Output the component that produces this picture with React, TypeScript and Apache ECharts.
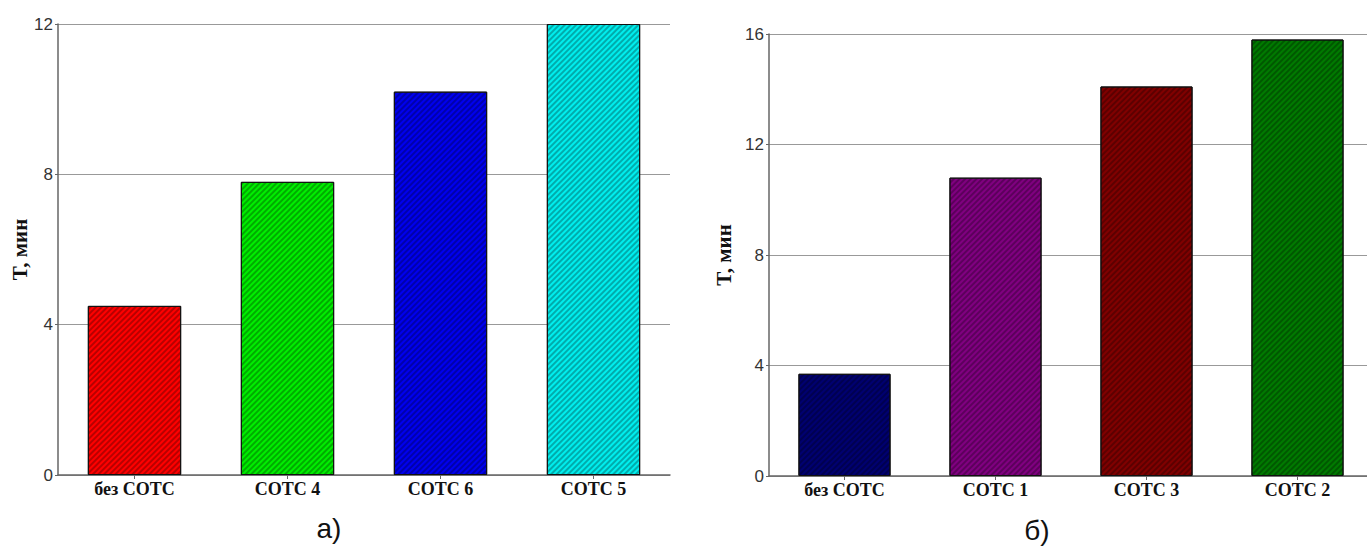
import React, { useEffect, useRef } from "react";
import * as echarts from "echarts";

const categoriesA = ["без СОТС", "СОТС 4", "СОТС 6", "СОТС 5"];
const valuesA = [4.5, 7.8, 10.2, 12.0];
const colorsA = ["#ff0000", "#00ee00", "#0000ee", "#00eeee"];

const categoriesB = ["без СОТС", "СОТС 1", "СОТС 3", "СОТС 2"];
const valuesB = [3.7, 10.8, 14.1, 15.8];
const colorsB = ["#000070", "#800080", "#800000", "#007a00"];

const yNameA = "T, мин";
const yNameB = "T, мин";
const captionA = "а)";
const captionB = "б)";

const decal = {
  symbol: "rect",
  symbolSize: 1,
  dashArrayX: [1, 0],
  dashArrayY: [2, 2],
  rotation: -Math.PI / 4,
  color: "rgba(0,0,0,0.28)",
};

export default function App() {
  const ref = useRef<HTMLDivElement>(null);
  useEffect(() => {
    if (!ref.current) return;
    const chart = echarts.init(ref.current, null, { renderer: "svg" });
    const axisLine = { show: true, lineStyle: { color: "#666", width: 1.5 } };
    const yCommon = (max: number, name: string, gap: number) => ({
      type: "value",
      min: 0,
      max,
      interval: 4,
      name,
      nameLocation: "middle",
      nameRotate: 90,
      nameGap: gap,
      nameTextStyle: {
        fontFamily: "Liberation Serif",
        fontWeight: "bold",
        fontSize: 21,
        color: "#111",
      },
      axisLine,
      axisTick: { show: true, length: 3, lineStyle: { color: "#666" } },
      axisLabel: {
        fontFamily: "Liberation Sans",
        fontSize: 17,
        color: "#333",
        margin: 5,
      },
      splitLine: { show: true, lineStyle: { color: "#999", width: 1 } },
    });
    const xCommon = (cats: string[], gridIndex: number) => ({
      type: "category",
      gridIndex,
      data: cats,
      axisLine,
      axisTick: {
        show: true,
        alignWithLabel: true,
        length: 4,
        inside: false,
        lineStyle: { color: "#666" },
      },
      axisLabel: {
        fontFamily: "Liberation Serif",
        fontWeight: "bold",
        fontSize: 18,
        color: "#111",
        margin: 5,
        interval: 0,
      },
    });
    const barData = (vals: number[], cols: string[]) =>
      vals.map((v, i) => ({
        value: v,
        itemStyle: { color: cols[i], borderColor: "#111", borderWidth: 1, decal },
      }));
    chart.setOption({
      animation: false,
      grid: [
        { left: 58, top: 24, width: 612, height: 451 },
        { left: 769, top: 34, width: 604, height: 442 },
      ],
      xAxis: [xCommon(categoriesA, 0), xCommon(categoriesB, 1)],
      yAxis: [
        { ...yCommon(12, yNameA, 26), gridIndex: 0 },
        { ...yCommon(16, yNameB, 35), gridIndex: 1 },
      ],
      series: [
        {
          type: "bar",
          xAxisIndex: 0,
          yAxisIndex: 0,
          barWidth: "61%",
          data: barData(valuesA, colorsA),
        },
        {
          type: "bar",
          xAxisIndex: 1,
          yAxisIndex: 1,
          barWidth: "61%",
          data: barData(valuesB, colorsB),
        },
      ],
      graphic: [
        {
          type: "text",
          x: 329,
          y: 528,
          style: {
            text: captionA,
            fontFamily: "Liberation Sans",
            fontSize: 28,
            fill: "#111",
            align: "center",
            verticalAlign: "middle",
          },
        },
        {
          type: "text",
          x: 1037,
          y: 530,
          style: {
            text: captionB,
            fontFamily: "Liberation Sans",
            fontSize: 28,
            fill: "#111",
            align: "center",
            verticalAlign: "middle",
          },
        },
      ],
    });
    return () => chart.dispose();
  }, []);
  return (
    <div
      style={{
        position: "fixed",
        left: 0,
        top: 0,
        width: 1367,
        height: 549,
        overflow: "hidden",
        background: "#fff",
      }}
    >
      <div ref={ref} style={{ width: 1380, height: 549 }} />
    </div>
  );
}
